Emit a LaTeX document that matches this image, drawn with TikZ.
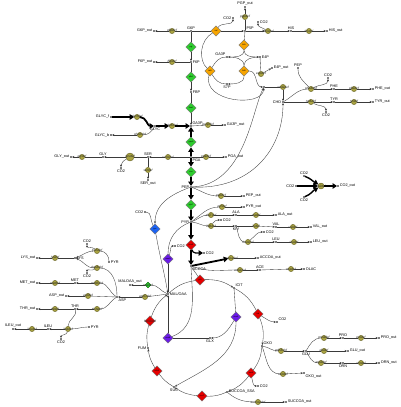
\documentclass[tikz,border=0pt]{standalone}
\usepackage{fontspec}
\setmainfont{Liberation Sans}
\usetikzlibrary{arrows.meta,shapes.geometric}
\definecolor{rxnolive}{HTML}{A8A241}
\definecolor{rxnedge}{HTML}{5F5A1E}
\definecolor{glygreen}{HTML}{2ECC2E}
\definecolor{pppamber}{HTML}{F6A400}
\definecolor{tcared}{HTML}{E50000}
\definecolor{anablue}{HTML}{1D63F2}
\definecolor{shuntviolet}{HTML}{6B1CE6}
\definecolor{wire}{HTML}{3A3A3A}

\begin{document}
\begin{tikzpicture}[
  x=1pt,y=-1pt,
  met/.style={circle,fill=black,inner sep=0pt,minimum size=1.6pt},
  mlab/.style={font=\fontsize{3.8}{4}\selectfont,inner sep=0.6pt},
  rxn/.style={circle,draw=rxnedge,fill=rxnolive,line width=0.35pt,inner sep=0pt,minimum size=5.3pt},
  rlab/.style={font=\fontsize{3.2}{3.4}\selectfont\itshape,inner sep=0pt,text=black!85},
  enz/.style={diamond,draw=black!55,line width=0.3pt,inner sep=0pt,minimum size=10.5pt,font=\fontsize{2}{2.2}\selectfont},
  arr/.style={draw=wire,line width=0.35pt,-{Stealth[length=2.4pt,width=2pt]}},
  ln/.style={draw=wire,line width=0.35pt},
  fat/.style={line width=1.8pt,-{Triangle[length=4.5pt,width=5.5pt]}}
]
\useasboundingbox (0,0) rectangle (400,407);
\fill[white] (0,0) rectangle (400,407);

% glycolysis axis
\node[met,label={[mlab]above:G6P}] (g6p) at (191,31) {};
\node[met,label={[mlab]right:F6P}] (f6p) at (191,62) {};
\node[met,label={[mlab]right:FBP}] (fbp) at (191,92) {};
\node[met,label={[mlab]above right:GA3P}] (ga3p) at (191,126) {};
\node[met,label={[mlab]below right:PGA}] (pga) at (191,157) {};
\node[met,label={[mlab]left:PEP}] (pep) at (191,187) {};
\node[met,label={[mlab]left:PYR}] (pyr) at (191,222) {};
\node[met,label={[mlab]below right:ACCOA}] (accoa) at (191,266) {};
\node[enz,fill=glygreen] (pgi) at (191,47) {pgi};
\node[enz,fill=glygreen] (pfk) at (191,77) {pfkA};
\node[enz,fill=glygreen] (fba) at (191,108) {fbaA};
\node[enz,fill=glygreen] (gap) at (191,142) {gapA};
\node[enz,fill=glygreen] (eno) at (191,172) {eno};
\node[enz,fill=glygreen] (pyk) at (191,205) {pykF};
\node[enz,fill=tcared] (pdh) at (191,245) {aceE};
\node[met,label={[mlab]right:CO2}] (co2e) at (204,253) {};

% exchanges on the axis
\node[rxn,label={[rlab]center:g6pdef}] (g6px) at (172,31) {};
\node[met,label={[mlab]left:G6P\_out}] (g6pout) at (154,31) {};
\node[rxn,label={[rlab]center:f6pdef}] (f6px) at (172,62) {};
\node[met,label={[mlab]left:F6P\_out}] (f6pout) at (154,62) {};
\node[rxn,label={[rlab]center:ga3pdef}] (ga3px) at (208,125) {};
\node[met,label={[mlab]right:GA3P\_out}] (ga3pout) at (225,125) {};
\node[rxn,label={[rlab]center:pgadef}] (pgax) at (206,157) {};
\node[met,label={[mlab]right:PGA\_out}] (pgaout) at (226,157) {};
\node[rxn,label={[rlab]center:pepdef}] (pepx) at (221,196) {};
\node[met,label={[mlab]right:PEP\_out}] (pepout) at (244,196) {};
\node[rxn,label={[rlab]center:pyrdef}] (pyrx) at (222,207) {};
\node[met,label={[mlab]right:PYR\_out}] (pyrout) at (244,207) {};

% glycerol
\node[met,label={[mlab]left:GLYC\_f}] (glycf) at (111,117) {};
\node[met,label={[mlab]left:GLYC\_b}] (glycb) at (111,135) {};
\node[rxn,label={[rlab]center:glycfdef}] (glycr1) at (137,117) {};
\node[rxn,label={[rlab]center:glycbdef}] (glycr2) at (140,135) {};
\node[met,label={[mlab]below:GLYC}] (glyc) at (155,126) {};
\node[rxn,label={[rlab]center:glpKdef}] (glpK) at (172,126) {};

% pentose phosphate
\node[enz,fill=pppamber] (zwf) at (216,31) {zwf};
\node[met,label={[mlab]above right:P5P}] (p5p) at (245,31) {};
\node[met,label={[mlab]left:CO2}] (co2a) at (233,18) {};
\node[rxn,label={[rlab]center:pgpdef}] (pgpx) at (245,17) {};
\node[met,label={[mlab]above:PGP\_out}] (pgpout) at (245,7) {};
\node[enz,fill=pppamber] (tkt1) at (244,45) {tktA};
\node[enz,fill=pppamber] (tal) at (210,71) {talB};
\node[enz,fill=pppamber] (tkt2) at (244,71) {tktB};
\node[met,label={[mlab]above left:GA3P}] (ga3pp) at (227,57) {};
\node[met,label={[mlab]right:E4P}] (e4p) at (260,57) {};
\node[met,label={[mlab]below:S7P}] (s7p) at (227,84) {};
\node[rxn,label={[rlab]center:e4pdef}] (e4px) at (261,74) {};
\node[met,label={[mlab]right:E4P\_out}] (e4pout) at (272,68) {};
\node[met] (dahp) at (264,87) {};

% histidine
\node[rxn,label={[rlab]center:hisGdef}] (hisG) at (268,31) {};
\node[met,label={[mlab]right:CO2}] (co2b) at (258,22) {};
\node[met,label={[mlab]above:HIS}] (his) at (291,31) {};
\node[rxn,label={[rlab]center:hisdef}] (hisx) at (309,31) {};
\node[met,label={[mlab]right:HIS\_out}] (hisout) at (327,31) {};

% aromatics
\node[rxn,label={[rlab]center:aroGdef}] (aroG) at (283,87) {};
\node[met,label={[mlab]left:CHO}] (cho) at (283,102) {};
\node[met,label={[mlab]above:PEP}] (pepa) at (298,68) {};
\node[rxn,label={[rlab]center:pheAdef}] (pheA) at (311,89) {};
\node[met,label={[mlab]above:CO2}] (co2p) at (328,78) {};
\node[met,label={[mlab]above:PHE}] (phe) at (334,89) {};
\node[rxn,label={[rlab]center:phedef}] (phex) at (354,89) {};
\node[met,label={[mlab]right:PHE\_out}] (pheout) at (373,89) {};
\node[rxn,label={[rlab]center:tyrAdef}] (tyrA) at (311,102) {};
\node[met,label={[mlab]below:CO2}] (co2t) at (326,112) {};
\node[met,label={[mlab]above:TYR}] (tyr) at (334,102) {};
\node[rxn,label={[rlab]center:tyrdef}] (tyrx) at (354,102) {};
\node[met,label={[mlab]right:TYR\_out}] (tyrout) at (373,102) {};

% serine and glycine
\node[met,label={[mlab]above:SER}] (ser) at (148,157) {};
\node[rxn,label={[rlab]center:serAdef}] (serA) at (168,157) {};
\node[rxn,label={[rlab]center:serdef}] (sdaA) at (148,170) {};
\node[met,label={[mlab]below:SER\_out}] (serout) at (148,180) {};
\node[rxn,minimum size=8pt,label={[rlab]center:gcvdef}] (gcv) at (130,157) {};
\node[met,label={[mlab]below:CO2}] (co2g) at (121,168) {};
\node[met,label={[mlab]above:GLY}] (gly) at (103,157) {};
\node[rxn,label={[rlab]center:glydef}] (glyx) at (82,157) {};
\node[met,label={[mlab]left:GLY\_out}] (glyout) at (71,157) {};

% CO2 export
\node[met,label={[mlab]left:CO2}] (co2l1) at (296,186) {};
\node[met,label={[mlab]above:CO2}] (co2top) at (304,176) {};
\node[met,label={[mlab]below:CO2}] (co2bot) at (304,197) {};
\node[rxn,minimum size=6pt,label={[rlab]center:co2def}] (co2x) at (321,186) {};
\node[met,label={[mlab]right:CO2\_out}] (co2out) at (338,186) {};

% pyruvate family
\node[rxn,label={[rlab]center:alaTdef}] (alaT) at (211,215) {};
\node[met,label={[mlab]above:ALA}] (ala) at (236,215) {};
\node[rxn,label={[rlab]center:aladef}] (alax) at (256,215) {};
\node[met,label={[mlab]right:ALA\_out}] (alaout) at (276,215) {};
\node[rxn,label={[rlab]center:ilvBdef}] (ilvB) at (211,226) {};
\node[met,label={[mlab]right:CO2}] (co2v) at (221,220) {};
\node[met,label={[mlab]below:KIV}] (kiv) at (236,226) {};
\node[rxn,label={[rlab]center:ilvdef}] (ilvx) at (256,226) {};
\node[met,label={[mlab]above:VAL}] (val) at (276,227) {};
\node[rxn,label={[rlab]center:valdef}] (valx) at (293,227) {};
\node[met,label={[mlab]right:VAL\_out}] (valout) at (311,227) {};
\node[rxn,label={[rlab]center:leuAdef}] (leuA) at (248,242) {};
\node[met,label={[mlab]right:CO2}] (co2l) at (264,232) {};
\node[met,label={[mlab]above:LEU}] (leu) at (276,242) {};
\node[rxn,label={[rlab]center:leudef}] (leux) at (294,242) {};
\node[met,label={[mlab]right:LEU\_out}] (leuout) at (311,242) {};

% acetyl-CoA
\node[rxn,label={[rlab]center:accoadef}] (accx) at (231,258) {};
\node[met,label={[mlab]right:ACCOA\_out}] (accout) at (258,258) {};
\node[rxn,label={[rlab]center:ackAdef}] (ackA) at (240,270) {};
\node[met,label={[mlab]above:ACE}] (ace) at (260,270) {};
\node[rxn,label={[rlab]center:acedef}] (acex) at (291,269) {};
\node[met,label={[mlab]right:OLAC}] (aceout) at (304,269) {};

% anaplerosis
\node[enz,fill=anablue] (ppc) at (155,229) {ppc};
\node[met,label={[mlab]left:CO2}] (co2c) at (145,212) {};
\node[enz,fill=shuntviolet] (mae) at (168,259) {maeB};
\node[met,label={[mlab]right:CO2}] (co2m) at (175,246) {};
\node[rxn,diamond,fill=glygreen,draw=green!35!black,minimum size=6pt,label={[rlab]center:maldef}] (malx) at (148,285) {};
\node[met,label={[mlab]above:MALOAA\_out}] (malout) at (130,285) {};
\node[rxn,label={[rlab]center:aspCdef}] (aspC) at (145,297) {};

% TCA cycle and glyoxylate shunt
\node[met,label={[mlab]right:MAL/OAA}] (mal) at (168,294) {};
\node[enz,fill=tcared] (gltA) at (200,280) {gltA};
\node[met,label={[mlab]above right:ICIT}] (icit) at (234,288) {};
\node[enz,fill=tcared] (icd) at (258,314) {icd};
\node[met,label={[mlab]above right:CO2}] (co2d) at (277,322) {};
\node[met,label={[mlab]above right:OXO}] (oxo) at (262,346) {};
\node[enz,fill=tcared] (sucA) at (251,373) {sucA};
\node[met,label={[mlab]right:CO2}] (co2s) at (258,386) {};
\node[met,label={[mlab]right:SUCCOA\_SSA}] (succoa) at (227,392) {};
\node[enz,fill=tcared] (sucC) at (202,396) {sucC};
\node[met,label={[mlab]below:SUC}] (suc) at (174,387) {};
\node[enz,fill=tcared] (sdh) at (157,371) {sdhA};
\node[met,label={[mlab]left:FUM}] (fum) at (148,348) {};
\node[enz,fill=tcared,label={[rlab]center:fumBdef}] (fumA) at (150,321) {};
\node[enz,fill=shuntviolet] (icl) at (236,317) {aceA};
\node[enz,fill=shuntviolet] (mas) at (168,338) {aceB};
\node[met,label={[mlab]below:GLX}] (glx) at (210,338) {};

% glutamate family
\node[rxn,label={[rlab]center:gdhAdef}] (gdh) at (281,351) {};
\node[met,label={[mlab]below:GLU}] (glu) at (306,351) {};
\node[rxn,label={[rlab]center:proAdef}] (proA) at (324,338) {};
\node[met,label={[mlab]above:PRO}] (pro) at (343,338) {};
\node[rxn,label={[rlab]center:prodef}] (prox) at (361,338) {};
\node[met,label={[mlab]right:PRO\_out}] (proout) at (379,338) {};
\node[rxn,label={[rlab]center:gludef}] (glux) at (324,351) {};
\node[met,label={[mlab]right:GLU\_out}] (gluout) at (348,351) {};
\node[rxn,label={[rlab]center:argAdef}] (argA) at (321,363) {};
\node[met,label={[mlab]below:ORN}] (orn) at (343,363) {};
\node[rxn,label={[rlab]center:orndef}] (ornx) at (361,363) {};
\node[met,label={[mlab]right:ORN\_out}] (ornout) at (379,363) {};
\node[rxn,label={[rlab]center:oxodef}] (oxox) at (283,374) {};
\node[met,label={[mlab]below right:OXO\_out}] (oxoout) at (304,373) {};
\node[rxn,label={[rlab]center:succoadef}] (succx) at (258,402) {};
\node[met,label={[mlab]right:SUCCOA\_out}] (succout) at (286,402) {};

% aspartate family
\node[met,label={[mlab]below right:ASP}] (asp) at (117,297) {};
\node[rxn,label={[rlab]center:aspdef}] (aspx) at (88,296) {};
\node[met,label={[mlab]left:ASP\_out}] (aspout) at (66,296) {};
\node[rxn,label={[rlab]center:metBdef}] (metB) at (97,283) {};
\node[met,label={[mlab]above:MET}] (met) at (75,283) {};
\node[rxn,label={[rlab]center:metdef}] (metx) at (55,283) {};
\node[met,label={[mlab]left:MET\_out}] (metout) at (37,283) {};
\node[rxn,label={[rlab]center:thrAdef}] (thrA) at (97,309) {};
\node[met,label={[mlab]above:THR}] (thr) at (75,309) {};
\node[rxn,label={[rlab]center:thrdef}] (thrx) at (55,309) {};
\node[met,label={[mlab]left:THR\_out}] (throut) at (37,309) {};
\node[rxn,label={[rlab]center:ilvAdef}] (ilvA) at (68,329) {};
\node[met,label={[mlab]right:PYR}] (pyri) at (89,327) {};
\node[met,label={[mlab]below:CO2}] (co2i) at (61,339) {};
\node[met,label={[mlab]above:ILEU}] (ileu) at (48,329) {};
\node[rxn,label={[rlab]center:ileudef}] (ileux) at (32,329) {};
\node[met,label={[mlab]above:ILEU\_out}] (ileuout) at (13,329) {};
\node[rxn,label={[rlab]center:dapAdef}] (dapA) at (97,268) {};
\node[met,label={[mlab]below:CO2}] (co2z) at (87,273) {};
\node[rxn,label={[rlab]center:lysAdef}] (lysA) at (97,251) {};
\node[met,label={[mlab]above:CO2}] (co2y) at (87,244) {};
\node[met,label={[mlab]right:PYR}] (pyrl) at (109,262) {};
\node[met,label={[mlab]right:LYS}] (lys) at (75,258) {};
\node[rxn,label={[rlab]center:lysdef}] (lysx) at (55,258) {};
\node[met,label={[mlab]left:LYS\_out}] (lysout) at (37,258) {};

% axis connectors
\foreach \a/\b in {g6p/pgi,f6p/pfk,fbp/fba} \draw[ln] (\a)--(\b);
\foreach \a/\b in {pgi/f6p,pfk/fbp,fba/ga3p} \draw[arr] (\a)--(\b);
\foreach \a/\b in {pga/gap,gap/ga3p,pga/eno,eno/pep,pep/pyk,pyk/pyr,pyr/pdh,pdh/accoa} \draw[fat] (\a)--(\b);
\draw[fat,line width=1.2pt] (pdh) to[out=-80,in=180] (co2e);
\draw[fat] (glycf)--(glycr1);
\draw[fat] (glycr1) to[out=0,in=180] (glyc);
\draw[fat] (glyc)--(glpK);
\draw[fat] (glpK)--(ga3p);
\draw[ln] (glycr2) to[out=0,in=-120] (glyc);
\draw[arr] (glycr2)--(glycb);

% exchange reactions
\foreach \mt/\rx/\ex in {g6p/g6px/g6pout,f6p/f6px/f6pout,ga3p/ga3px/ga3pout,p5p/pgpx/pgpout,
  his/hisx/hisout,phe/phex/pheout,tyr/tyrx/tyrout,gly/glyx/glyout,ser/sdaA/serout,pga/pgax/pgaout,
  ala/alax/alaout,val/valx/valout,leu/leux/leuout,ace/acex/aceout,asp/aspx/aspout,met/metx/metout,
  thr/thrx/throut,ileu/ileux/ileuout,lys/lysx/lysout,pro/prox/proout,glu/glux/gluout,orn/ornx/ornout,e4p/e4px/e4pout}
  {\draw[ln] (\mt)--(\rx); \draw[arr] (\rx)--(\ex);}
\draw[ln] (pep) to[out=-20,in=180] (pepx);
\draw[arr] (pepx)--(pepout);
\draw[ln] (pyr) to[out=35,in=180] (pyrx);
\draw[arr] (pyrx)--(pyrout);

% pentose phosphate connectors
\draw[ln] (g6p)--(zwf);
\draw[arr] (zwf)--(p5p);
\draw[arr] (zwf) to[out=60,in=-90] (co2a);
\draw[ln] (p5p)--(tkt1);
\draw[arr] (tkt1) to[out=-90,in=0] (ga3pp);
\draw[arr] (tkt1) to[out=-90,in=180] (e4p);
\draw[ln] (ga3pp) to[out=0,in=90] (tkt2);
\draw[ln] (e4p) to[out=180,in=90] (tkt2);
\draw[arr] (tkt2) to[out=-90,in=0] (s7p);
\draw[ln] (ga3pp) to[out=180,in=60] (tal);
\draw[ln] (s7p) to[out=180,in=-60] (tal);
\draw[ln] (zwf) .. controls (200,40) and (198,60) .. (tal);
\draw[arr] (tal) .. controls (202,102) and (262,108) .. (dahp);
\draw[arr] (tkt2) to[out=0,in=180] (dahp);
\draw[arr] (p5p)--(hisG);
\draw[arr] (hisG)--(his);
\draw[arr] (hisG) to[out=150,in=-90] (co2b);

% aromatic connectors
\draw[arr] (pep) .. controls (245,185) and (252,110) .. (dahp);
\draw[arr] (pep) .. controls (250,190) and (283,150) .. (cho);
\draw[ln] (dahp)--(aroG);
\draw[arr] (aroG)--(cho);
\draw[ln] (cho) to[out=30,in=180] (pheA);
\draw[ln] (pepa) to[out=-90,in=135] (pheA);
\draw[ln] (cho)--(tyrA);
\draw[arr] (pheA)--(phe);
\draw[arr] (tyrA)--(tyr);
\draw[arr] (pheA) to[out=30,in=-90] (co2p);
\draw[arr] (tyrA) to[out=-30,in=90] (co2t);

% serine connectors
\draw[ln] (pga)--(serA);
\draw[arr] (serA)--(ser);
\draw[ln] (ser)--(gcv);
\draw[arr] (gcv)--(gly);
\draw[arr] (gcv) to[out=-150,in=90] (co2g);

% CO2 export
\draw[fat,line width=1.4pt] (co2l1)--(co2x);
\draw[fat,line width=1.4pt] (co2top) to[out=-20,in=150] (co2x);
\draw[fat,line width=1.4pt] (co2bot) to[out=20,in=-150] (co2x);
\draw[fat,line width=1.4pt] (co2x)--(co2out);

% pyruvate family connectors
\draw[ln] (pyr) to[out=20,in=180] (alaT);
\draw[arr] (alaT)--(ala);
\draw[ln] (pyr) to[out=-5,in=180] (ilvB);
\draw[arr] (ilvB)--(kiv);
\draw[arr] (ilvB) to[out=60,in=180] (co2v);
\draw[ln] (kiv)--(ilvx);
\draw[arr] (ilvx)--(val);
\draw[ln] (kiv) to[out=-70,in=180] (leuA);
\draw[arr] (leuA)--(leu);
\draw[arr] (leuA) to[out=40,in=180] (co2l);

% acetyl-CoA connectors
\draw[fat] (accoa)--(accx);
\draw[arr] (accx)--(accout);
\draw[ln] (accoa) to[out=-20,in=180] (ackA);
\draw[arr] (ackA)--(ace);

% anaplerosis connectors
\draw[arr] (pep) to[out=200,in=90] (ppc);
\draw[ln] (co2c) to[out=0,in=120] (ppc);
\draw[arr] (ppc) to[out=-80,in=100] (mal);
\draw[ln] (pyr) to[out=200,in=90] (mae);
\draw[arr] (mae) to[out=70,in=180] (co2m);
\draw[arr] (mae)--(mal);
\draw[ln] (mal) to[out=160,in=0] (malx);
\draw[arr] (malx)--(malout);
\draw[ln] (mal)--(aspC);
\draw[arr] (aspC)--(asp);

% TCA cycle
\foreach \a/\b/\c in {mal/gltA/17,icit/icd/17,oxo/sucA/15,succoa/sucC/12,suc/sdh/11,fum/fumA/13}
  \draw[ln] (\a) to[bend left=\c] (\b);
\foreach \a/\b/\c in {gltA/icit/17,icd/oxo/16,sucA/succoa/15,sucC/suc/14,sdh/fum/12,fumA/mal/16}
  \draw[arr] (\a) to[bend left=\c] (\b);
\draw[ln] (accoa) to[out=-60,in=120] (gltA);
\draw[ln] (accoa) to[out=-88,in=20] (mas);
\draw[ln] (icit)--(icl);
\draw[arr] (icl) to[out=-120,in=0] (glx);
\draw[arr] (icl) to[out=-90,in=30] (suc);
\draw[ln] (glx)--(mas);
\draw[arr] (mas)--(mal);
\draw[arr] (icd) to[out=-30,in=180] (co2d);
\draw[arr] (sucA) to[out=-80,in=180] (co2s);

% glutamate family connectors
\draw[ln] (oxo) to[out=-10,in=180] (gdh);
\draw[arr] (gdh)--(glu);
\draw[ln] (glu) to[out=60,in=180] (proA);
\draw[arr] (proA)--(pro);
\draw[ln] (glu) to[out=-60,in=180] (argA);
\draw[arr] (argA)--(orn);
\draw[ln] (oxo) to[out=-70,in=180] (oxox);
\draw[arr] (oxox)--(oxoout);
\draw[ln] (succoa) to[out=-40,in=180] (succx);
\draw[arr] (succx)--(succout);

% aspartate family connectors
\draw[ln] (asp) to[out=150,in=0] (metB);
\draw[arr] (metB)--(met);
\draw[ln] (asp) to[out=-150,in=0] (thrA);
\draw[arr] (thrA)--(thr);
\draw[ln] (thr) to[out=-70,in=90] (ilvA);
\draw[ln] (pyri) to[out=180,in=0] (ilvA);
\draw[arr] (ilvA)--(ileu);
\draw[arr] (ilvA) to[out=-100,in=90] (co2i);
\draw[ln] (asp) to[out=90,in=0] (dapA);
\draw[arr] (dapA) to[out=180,in=-20] (lys);
\draw[arr] (dapA) to[out=-150,in=90] (co2z);
\draw[ln] (pyrl) to[out=90,in=0] (lysA);
\draw[arr] (lysA) to[out=180,in=20] (lys);
\draw[arr] (lysA) to[out=135,in=-90] (co2y);
\end{tikzpicture}
\end{document}
